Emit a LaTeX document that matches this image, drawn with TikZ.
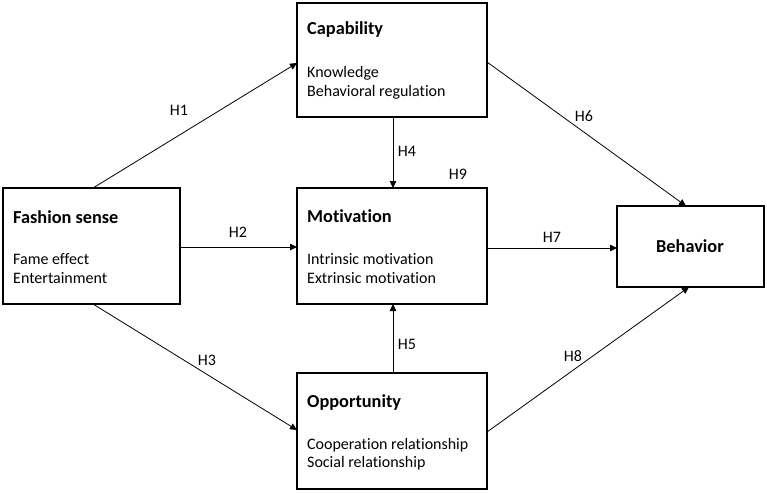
\documentclass[tikz,border=0pt]{standalone}
\usepackage{fontspec}
\setmainfont{Carlito}[Ligatures={NoCommon}]
\usetikzlibrary{arrows.meta}
\begin{document}
\begin{tikzpicture}[x=1pt,y=-1pt,
  box/.style={draw=black,line width=1.3pt,rectangle,inner sep=0pt},
  ttl/.style={anchor=base west,inner sep=0pt,font=\fontsize{18.3}{20}\selectfont\bfseries},
  itm/.style={anchor=base west,inner sep=0pt,font=\fontsize{16}{18}\selectfont},
  hl/.style={inner sep=0pt,font=\fontsize{16}{18}\selectfont},
  arr/.style={draw=black,line width=0.8pt,-{Triangle[length=7pt,width=6.5pt]}}]
\useasboundingbox (0,0) rectangle (767,492);
% boxes
\node[box,minimum width=177pt,minimum height=116pt] (fs) at (91.5,246) {};
\node[box,minimum width=190pt,minimum height=114pt] (cap) at (392,60) {};
\node[box,minimum width=190pt,minimum height=116pt] (mot) at (392,246) {};
\node[box,minimum width=190pt,minimum height=116pt] (opp) at (392,431) {};
\node[box,minimum width=147pt,minimum height=81pt] (beh) at (690.5,246.5) {};
% texts
\node[ttl] (fst) at (13,223) {Fashion sense};
\node[itm] (fs1) at (13,264) {Fame effect};
\node[itm] (fs2) at (13,283) {Entertainment};
\node[ttl] (capt) at (307,35) {Capability};
\node[itm] (cap1) at (307,78) {Knowledge};
\node[itm] (cap2) at (307,97) {Behavioral regulation};
\node[ttl] (mott) at (307,222) {Motivation};
\node[itm] (mot1) at (307,264) {Intrinsic motivation};
\node[itm] (mot2) at (307,283) {Extrinsic motivation};
\node[ttl] (oppt) at (307,407) {Opportunity};
\node[itm] (opp1) at (307,449) {Cooperation relationship};
\node[itm] (opp2) at (307,467) {Social relationship};
\node[inner sep=0pt,font=\fontsize{18.3}{20}\selectfont\bfseries] (beht) at (690,246) {Behavior};
% anchors for connectors
\coordinate (a1s) at (93,188);
\coordinate (a1e) at (297,63);
\coordinate (a3s) at (93,304);
\coordinate (a3e) at (297,430);
\coordinate (a6s) at (487,62);
\coordinate (a6e) at (686,206);
\coordinate (a8s) at (487,432);
\coordinate (a8e) at (689,287);
\coordinate (a2s) at (180,247);
\coordinate (a2e) at (297,247);
\coordinate (a7s) at (487,248);
\coordinate (a7e) at (617,248);
\coordinate (a4s) at (393,117);
\coordinate (a4e) at (393,188);
\coordinate (a5s) at (393,373);
\coordinate (a5e) at (393,304);
% connectors
\draw[arr] (a1s) -- (a1e);
\draw[arr] (a2s) -- (a2e);
\draw[arr] (a3s) -- (a3e);
\draw[arr] (a4s) -- (a4e);
\draw[arr] (a5s) -- (a5e);
\draw[arr] (a6s) -- (a6e);
\draw[arr] (a7s) -- (a7e);
\draw[arr] (a8s) -- (a8e);
% labels
\node[hl] (h1) at (179,110) {H1};
\node[hl] (h2) at (238,232) {H2};
\node[hl] (h3) at (207,360) {H3};
\node[hl] (h4) at (407,151) {H4};
\node[hl] (h5) at (407,344) {H5};
\node[hl] (h6) at (584,116) {H6};
\node[hl] (h7) at (552,237) {H7};
\node[hl] (h8) at (573,356) {H8};
\node[hl] (h9) at (458,174) {H9};
\end{tikzpicture}
\end{document}
